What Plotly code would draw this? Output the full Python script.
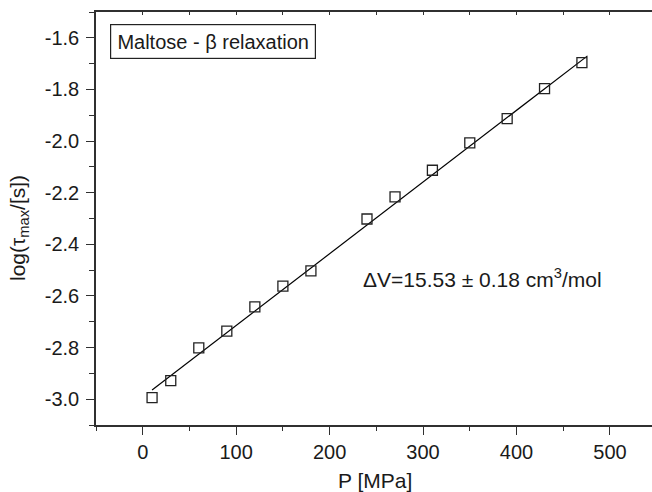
import plotly.graph_objects as go

# Data
P = [10, 30, 60, 90, 120, 150, 180, 240, 270, 310, 350, 390, 430, 470]
log_tau = [-2.994, -2.928, -2.801, -2.736, -2.642, -2.562, -2.503,
           -2.302, -2.216, -2.113, -2.007, -1.913, -1.797, -1.696]
fit_P = [10, 476]
fit_log_tau = [-2.964, -1.670]

x_tickvals = [0, 100, 200, 300, 400, 500]
x_ticktext = ["0", "100", "200", "300", "400", "500"]
y_tickvals = [-3.0, -2.8, -2.6, -2.4, -2.2, -2.0, -1.8, -1.6]
y_ticktext = ["-3.0", "-2.8", "-2.6", "-2.4", "-2.2", "-2.0", "-1.8", "-1.6"]

FONT = "Liberation Sans, Arial, Helvetica, sans-serif"
AX = "#303030"

fig = go.Figure()
fig.add_trace(go.Scatter(x=fit_P, y=fit_log_tau, mode="lines",
                         line=dict(color="black", width=1.2),
                         showlegend=False, hoverinfo="skip"))
fig.add_trace(go.Scatter(x=P, y=log_tau, mode="markers",
                         marker=dict(symbol="square-open", size=10,
                                     color="#222222", line=dict(width=1.3)),
                         showlegend=False))
# invisible trace to activate top axis
fig.add_trace(go.Scatter(x=[P[0]], y=[log_tau[0]], xaxis="x2", mode="markers",
                         marker=dict(opacity=0), showlegend=False,
                         hoverinfo="skip"))

fig.update_layout(
    width=652, height=492,
    margin=dict(l=96, r=0, t=12, b=67),
    paper_bgcolor="white", plot_bgcolor="white",
    font=dict(family=FONT, size=20, color="#1a1a1a"),
    xaxis=dict(range=[-50, 545], showgrid=False, zeroline=False,
               showline=True, linecolor=AX, linewidth=1.5,
               ticks="outside", ticklen=8, tickwidth=1.3, tickcolor=AX,
               tickvals=x_tickvals, ticktext=x_ticktext,
               tickfont=dict(size=20),
               minor=dict(dtick=50, tick0=0, ticks="outside", ticklen=4,
                          tickwidth=1.3, tickcolor=AX)),
    xaxis2=dict(range=[-50, 545], overlaying="x", side="top",
                showgrid=False, zeroline=False, showline=True,
                linecolor=AX, linewidth=1.5, ticks="inside", ticklen=3,
                tickwidth=1.3, tickcolor=AX, dtick=50, tick0=0,
                showticklabels=False),
    yaxis=dict(range=[-3.1, -1.5], showgrid=False, zeroline=False,
               showline=True, linecolor=AX, linewidth=1.5,
               ticks="outside", ticklen=8, tickwidth=1.3, tickcolor=AX,
               tickvals=y_tickvals, ticktext=y_ticktext,
               tickfont=dict(size=20), ticklabelstandoff=3,
               minor=dict(dtick=0.2, tick0=-3.1, ticks="outside", ticklen=5,
                          tickwidth=1.3, tickcolor=AX)),
    annotations=[
        dict(text="Maltose - β relaxation", xref="paper", yref="paper",
             x=0.0252, y=0.971, xanchor="left", yanchor="top",
             showarrow=False, bordercolor="#222222", borderwidth=1.2,
             borderpad=4, width=196, height=25, bgcolor="white",
             font=dict(size=20)),
        dict(text="ΔV=15.53 ± 0.18 cm<sup>3</sup>/mol", xref="x", yref="y",
             x=234, y=-2.53, xanchor="left", yanchor="middle",
             showarrow=False, font=dict(size=21)),
        dict(text="P [MPa]", xref="paper", yref="paper",
             x=0.502, y=-0.135, xanchor="center", yanchor="middle",
             showarrow=False, font=dict(size=21)),
        dict(text="log(τ<sub>max</sub>/[s])", xref="paper", yref="paper",
             x=-0.1385, y=0.477, xanchor="center", yanchor="middle",
             textangle=-90, showarrow=False, font=dict(size=21)),
    ],
)

fig.write_html("out.html")
